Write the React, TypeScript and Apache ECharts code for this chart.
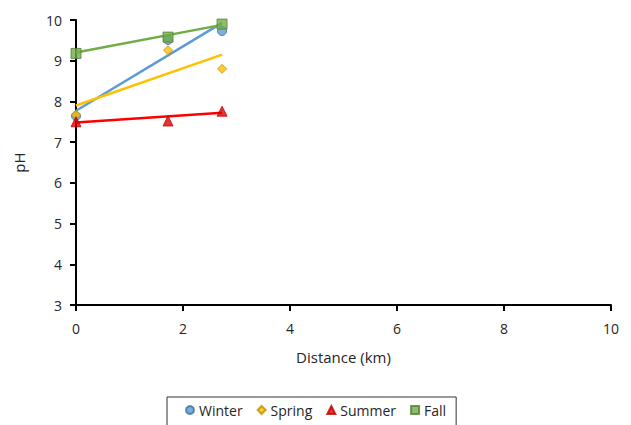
import React, { useEffect, useRef } from "react";
import * as echarts from "echarts";

const seasons = ["Winter", "Spring", "Summer", "Fall"];
const distances = [0, 1.72, 2.73];
const winterPH = [7.64, 9.51, 9.73];
const springPH = [7.67, 9.26, 8.8];
const summerPH = [7.5, 7.52, 7.76];
const fallPH = [9.18, 9.58, 9.9];
// trendline endpoints (at x = 0 and x = 2.73)
const trendX = [0, 2.73];
const winterTrend = [7.77, 9.93];
const springTrend = [7.9, 9.15];
const summerTrend = [7.48, 7.72];
const fallTrend = [9.2, 9.88];
const xTicks = [0, 2, 4, 6, 8, 10];

const fills = ["#5B9BD5", "#FFC000", "#E00000", "#70AD47"];
const borders = ["#41719C", "#BF9000", "#C00000", "#507E32"];
const lineColors = ["#5B9BD5", "#FFC000", "#FF0000", "#70AD47"];
const symbols = ["circle", "diamond", "triangle", "rect"];
const symbolSizes = [9, 9, 10, 10];

export default function App() {
  const ref = useRef<HTMLDivElement>(null);
  useEffect(() => {
    if (!ref.current) return;
    const chart = echarts.init(ref.current, undefined, { renderer: "svg" });
    const values = [winterPH, springPH, summerPH, fallPH];
    const trends = [winterTrend, springTrend, summerTrend, fallTrend];
    const font = "Open Sans, sans-serif";
    const trendSeries = trends.map((t, i) => ({
      name: seasons[i] + " trend",
      type: "line",
      data: trendX.map((x, j) => [x, t[j]]),
      symbol: "none",
      lineStyle: { color: lineColors[i], width: 2.5 },
      z: 2,
    }));
    const scatterSeries = values.map((v, i) => ({
      name: seasons[i],
      type: "scatter",
      data: distances.map((x, j) => [x, v[j]]),
      symbol: symbols[i],
      symbolSize: symbolSizes[i],
      itemStyle: { color: fills[i], borderColor: borders[i], borderWidth: 1 },
      z: 3,
    }));
    chart.setOption({
      animation: false,
      textStyle: { fontFamily: font },
      grid: { left: 76, right: 20, top: 20, bottom: 135 },
      xAxis: {
        type: "value",
        min: 0,
        max: 10,
        interval: 2,
        name: "Distance (km)",
        nameLocation: "middle",
        nameGap: 44,
        nameTextStyle: { fontSize: 15, color: "#262626", fontFamily: font },
        axisLine: { show: true, lineStyle: { color: "#000", width: 2 } },
        axisTick: { show: true, length: 6, lineStyle: { color: "#000", width: 2 } },
        axisLabel: {
          fontSize: 14,
          color: "#262626",
          margin: 16,
          formatter: (v: number) => (xTicks.includes(v) ? String(v) : ""),
        },
        splitLine: { show: false },
      },
      yAxis: {
        type: "value",
        min: 3,
        max: 10,
        interval: 1,
        name: "pH",
        nameLocation: "middle",
        nameGap: 50,
        nameRotate: 90,
        nameTextStyle: { fontSize: 15, color: "#262626", fontFamily: font },
        axisLine: { show: true, lineStyle: { color: "#000", width: 2 } },
        axisTick: { show: true, length: 6, lineStyle: { color: "#000", width: 2 } },
        axisLabel: { fontSize: 14, color: "#262626", margin: 14 },
        splitLine: { show: false },
      },
      legend: {
        data: seasons,
        left: 167,
        top: 397,
        width: 264,
        padding: [5, 10, 16, 18],
        borderColor: "#333",
        borderWidth: 1,
        itemWidth: 8,
        itemHeight: 8,
        itemGap: 14,
        textStyle: { fontSize: 14, lineHeight: 16, color: "#262626", fontFamily: font },
      },
      series: [...trendSeries, ...scatterSeries],
    });
    return () => chart.dispose();
  }, []);
  return (
    <div
      ref={ref}
      style={{ position: "fixed", left: 0, top: 0, width: 631, height: 440, background: "#fff" }}
    />
  );
}
